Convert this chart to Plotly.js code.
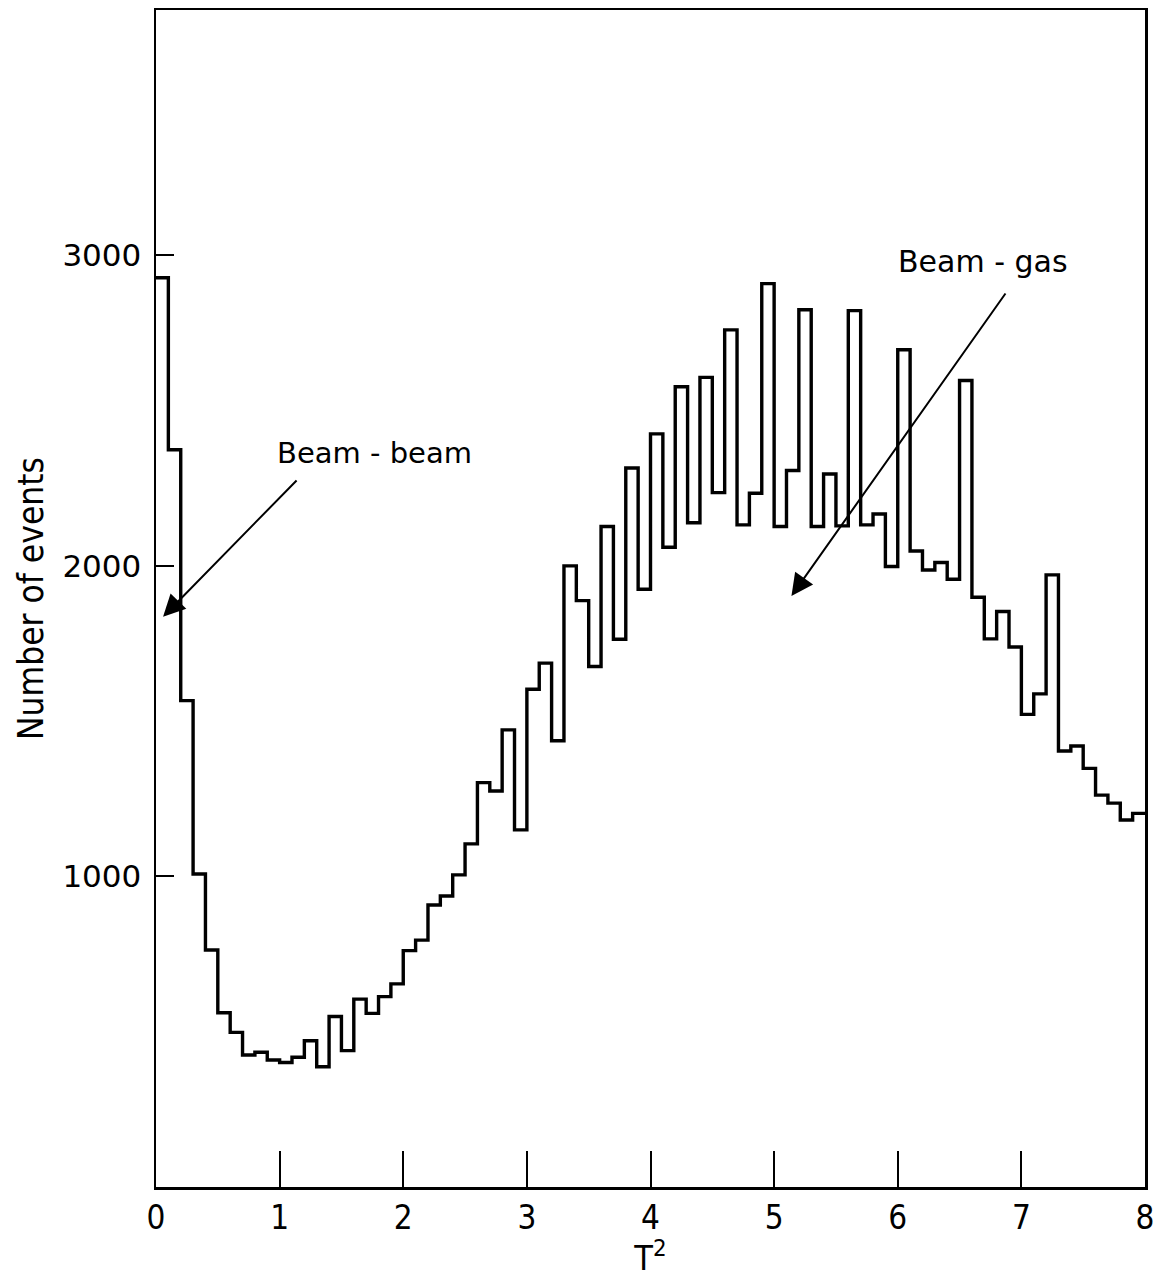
<!DOCTYPE html>
<html>
<head>
<meta charset="utf-8">
<script src="https://cdn.plot.ly/plotly-3.0.1.min.js"></script>
<style>
  html, body { margin: 0; padding: 0; background: #ffffff; }
  #chart { width: 1158px; height: 1278px; }
</style>
</head>
<body>
<div id="chart"></div>
<script>
// ---- Data ----
// Bin layout: 80 bins of width 0.1 from T^2 = 0 to 8
const binStart = 0;
const binWidth = 0.1;
// Number of events per bin
const counts = [
  2928, 2374, 1566, 1008, 763, 561, 498, 425, 434, 409,
  401, 418, 471, 387, 549, 439, 605, 559, 613, 654,
  761, 795, 908, 937, 1005, 1105, 1302, 1275, 1472, 1150,
  1603, 1687, 1437, 2000, 1888, 1676, 2127, 1764, 2315, 1925,
  2425, 2060, 2577, 2139, 2607, 2236, 2760, 2132, 2234, 2909,
  2127, 2307, 2825, 2127, 2296, 2129, 2822, 2132, 2167, 1998,
  2696, 2048, 1987, 2011, 1957, 2597, 1899, 1765, 1853, 1739,
  1522, 1588, 1971, 1404, 1420, 1348, 1262, 1236, 1182, 1203
];
const xTickVals = [0, 1, 2, 3, 4, 5, 6, 7, 8];
const xTickText = ["0", "1", "2", "3", "4", "5", "6", "7", "8"];
const yTickVals = [1000, 2000, 3000];
const yTickText = ["1000", "2000", "3000"];
const labels = {
  beamBeam: { text: "Beam - beam", x: 1.77, y: 2364 },
  beamGas:  { text: "Beam - gas",  x: 6.69, y: 2979 }
};
const arrows = [
  { tailX: 1.149, tailY: 2280, headX: 0.057, headY: 1836 },
  { tailX: 6.88,  tailY: 2882, headX: 5.14,  headY: 1903 }
];

// ---- Build step outline from bin edges ----
const edges = counts.map((_, i) => +(binStart + i * binWidth).toFixed(2));
edges.push(+(binStart + counts.length * binWidth).toFixed(2));
const stepY = counts.concat([counts[counts.length - 1]]);

const trace = {
  type: "scatter",
  mode: "lines",
  x: edges,
  y: stepY,
  line: { shape: "hv", color: "#000000", width: 3.4 },
  hoverinfo: "x+y",
  showlegend: false
};

const annotations = [
  {
    x: labels.beamBeam.x, y: labels.beamBeam.y, xref: "x", yref: "y",
    text: labels.beamBeam.text, showarrow: false,
    font: { family: "DejaVu Sans", size: 29, color: "#000" }
  },
  {
    x: labels.beamGas.x, y: labels.beamGas.y, xref: "x", yref: "y",
    text: labels.beamGas.text, showarrow: false,
    font: { family: "DejaVu Sans", size: 30, color: "#000" }
  }
].concat(arrows.map(a => ({
  x: a.headX, y: a.headY, xref: "x", yref: "y",
  ax: a.tailX, ay: a.tailY, axref: "x", ayref: "y",
  text: "", showarrow: true,
  arrowhead: 2, arrowsize: 2.2, arrowwidth: 2, arrowcolor: "#000",
  standoff: 0, startstandoff: 0
})));

const layout = {
  width: 1158,
  height: 1278,
  margin: { l: 156, r: 13, t: 10, b: 91, pad: 0 },
  paper_bgcolor: "#ffffff",
  plot_bgcolor: "#ffffff",
  showlegend: false,
  font: { family: "DejaVu Sans", color: "#000" },
  xaxis: {
    range: [0, 8],
    tickmode: "array",
    tickvals: xTickVals,
    ticktext: xTickText,
    ticks: "inside",
    ticklen: 36,
    tickwidth: 2,
    tickcolor: "#000",
    showline: true,
    linewidth: 2.5,
    linecolor: "#000",
    mirror: true,
    showgrid: false,
    zeroline: false,
    ticklabelstandoff: 0,
    tickfont: { family: "Liberation Sans Narrow, DejaVu Sans Condensed, sans-serif", size: 33, color: "#000" },
    title: {
      text: "T<sup>2</sup>",
      font: { family: "Liberation Sans Narrow, DejaVu Sans Condensed, sans-serif", size: 34, color: "#000" },
      standoff: 4
    }
  },
  yaxis: {
    range: [0, 3790],
    tickmode: "array",
    tickvals: yTickVals,
    ticktext: yTickText,
    ticks: "inside",
    ticklen: 18,
    tickwidth: 2,
    tickcolor: "#000",
    showline: true,
    linewidth: 2.5,
    linecolor: "#000",
    mirror: true,
    showgrid: false,
    zeroline: false,
    ticklabelstandoff: 6,
    tickfont: { family: "DejaVu Sans", size: 31, color: "#000" },
    title: {
      text: "Number of events",
      font: { family: "DejaVu Sans Condensed, Liberation Sans Narrow, sans-serif", size: 35, color: "#000" },
      standoff: 8
    }
  },
  annotations: annotations
};

Plotly.newPlot("chart", [trace], layout, { displayModeBar: false, staticPlot: true });
</script>
</body>
</html>
